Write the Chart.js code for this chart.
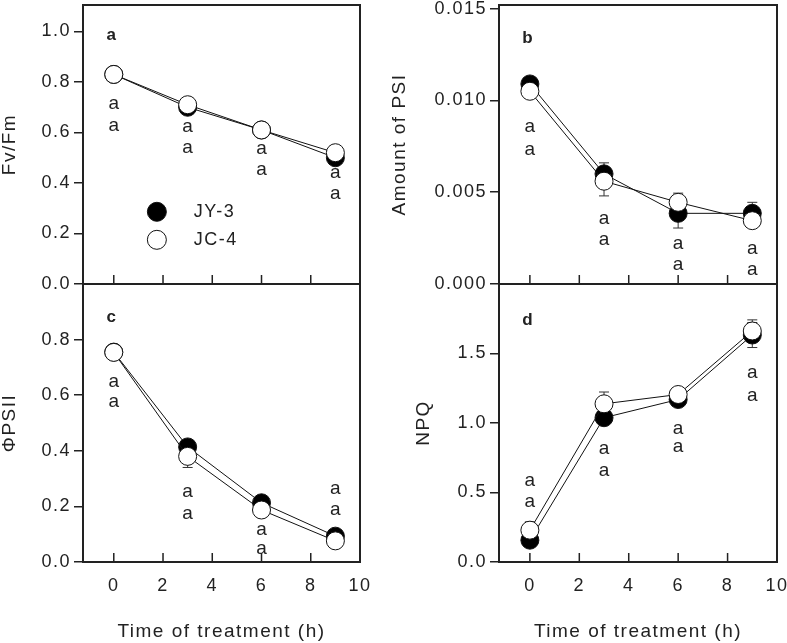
<!DOCTYPE html>
<html>
<head>
<meta charset="utf-8">
<script src="https://cdn.jsdelivr.net/npm/chart.js@4.4.0/dist/chart.umd.min.js"></script>
<style>
  html, body { margin: 0; padding: 0; background: #fff; }
  body { position: relative; width: 787px; height: 643px; overflow: hidden; }
  canvas { position: absolute; }
</style>
</head>
<body>
<canvas id="panel-a" width="400" height="330" style="left:0;top:-20px"></canvas>
<canvas id="panel-b" width="430" height="330" style="left:390px;top:-20px"></canvas>
<canvas id="panel-c" width="400" height="384" style="left:0;top:259px"></canvas>
<canvas id="panel-d" width="430" height="384" style="left:390px;top:259px"></canvas>
<script>
// time points (h) and axis ticks
const hours = [0, 3, 6, 9];
const xTicks = [0, 2, 4, 6, 8, 10];
const seriesNames = ['JY-3', 'JC-4'];
const sigLetter = 'a';

// a: Fv/Fm
const fvfmJY3 = [0.83, 0.70, 0.61, 0.50];
const fvfmJC4 = [0.83, 0.71, 0.61, 0.52];
const fvfmTicks = [0, 0.2, 0.4, 0.6, 0.8, 1.0];

// b: amount of PSI
const psiJY3 = [0.0109, 0.0060, 0.00385, 0.00385];
const psiJY3Err = [0.0002, 0.0006, 0.0008, 0.0006];
const psiJC4 = [0.0105, 0.0056, 0.00445, 0.00345];
const psiJC4Err = [0.0002, 0.0008, 0.0005, 0.0002];
const psiTicks = [0, 0.005, 0.010, 0.015];

// c: PhiPSII
const phiJY3 = [0.755, 0.414, 0.213, 0.093];
const phiJC4 = [0.754, 0.380, 0.187, 0.076];
const phiJC4Err = [0.01, 0.04, 0.01, 0.01];
const phiTicks = [0, 0.2, 0.4, 0.6, 0.8];

// d: NPQ
const npqJY3 = [0.157, 1.038, 1.169, 1.633];
const npqJY3Err = [0.03, 0.05, 0.03, 0.09];
const npqJC4 = [0.229, 1.138, 1.205, 1.662];
const npqJC4Err = [0.06, 0.085, 0.03, 0.08];
const npqTicks = [0, 0.5, 1.0, 1.5];

// significance letter anchors (x in h, y in axis units)
const lettersA = [[0, 0.714], [0, 0.627], [3, 0.624], [3, 0.540], [6, 0.536], [6, 0.452], [9, 0.442], [9, 0.357]];
const lettersB = [[0, 0.00854], [0, 0.00733], [3, 0.00355], [3, 0.00242], [6, 0.0022], [6, 0.00103], [9, 0.00193], [9, 0.00076]];
const lettersC = [[0, 0.647], [0, 0.575], [3, 0.252], [3, 0.175], [6, 0.115], [6, 0.049], [9, 0.264], [9, 0.187]];
const lettersD = [[0, 0.586], [0, 0.431], [3, 0.812], [3, 0.657], [6, 0.955], [6, 0.831], [9, 1.359], [9, 1.198]];

const FONT = '"Liberation Sans", Arial, sans-serif';
const INK = '#222';

const toPoints = vals => hours.map((h, i) => ({ x: h, y: vals[i] }));

function makeExtras(cfg) {
  return {
    id: 'panelExtras',
    beforeDraw(chart) {
      // the original lettering is widely tracked
      chart.ctx.letterSpacing = '1.5px';
    },
    beforeDatasetsDraw(chart) {
      const { ctx, scales: { x, y } } = chart;
      ctx.save();
      ctx.strokeStyle = '#333';
      ctx.lineWidth = 1;
      chart.data.datasets.forEach(ds => {
        if (!ds.errorBars) return;
        ds.data.forEach((p, i) => {
          const e = ds.errorBars[i];
          if (!e) return;
          const px = x.getPixelForValue(p.x);
          const top = y.getPixelForValue(p.y + e);
          const bot = y.getPixelForValue(p.y - e);
          ctx.beginPath();
          ctx.moveTo(px, top); ctx.lineTo(px, bot);
          ctx.moveTo(px - 5, top); ctx.lineTo(px + 5, top);
          ctx.moveTo(px - 5, bot); ctx.lineTo(px + 5, bot);
          ctx.stroke();
        });
      });
      ctx.restore();
    },
    afterDatasetsDraw(chart) {
      const { ctx, chartArea: area, scales: { x, y } } = chart;
      ctx.save();
      // frame
      ctx.strokeStyle = INK;
      ctx.lineWidth = 2;
      ctx.strokeRect(area.left, area.top, area.right - area.left, area.bottom - area.top);
      // inward x ticks
      ctx.lineWidth = 1.5;
      ctx.beginPath();
      xTicks.slice(0, -1).forEach(v => {
        const px = x.getPixelForValue(v);
        ctx.moveTo(px, area.bottom);
        ctx.lineTo(px, area.bottom - 9);
      });
      ctx.stroke();
      // significance letters
      ctx.fillStyle = INK;
      ctx.textAlign = 'center';
      ctx.textBaseline = 'middle';
      ctx.letterSpacing = '0px';
      ctx.font = '19px ' + FONT;
      cfg.letters.forEach(([lx, ly]) => {
        ctx.fillText(sigLetter, x.getPixelForValue(lx), y.getPixelForValue(ly));
      });
      // panel label
      ctx.font = 'bold 17px ' + FONT;
      ctx.fillText(cfg.label, x.getPixelForValue(-0.1), y.getPixelForValue(cfg.labelY));
      // legend
      if (cfg.legend) {
        const order = [1, 0];
        cfg.legend.forEach((ly, k) => {
          const ds = chart.data.datasets[order[k]];
          const cx = x.getPixelForValue(1.75);
          const cy = y.getPixelForValue(ly);
          ctx.beginPath();
          ctx.arc(cx, cy, 9.5, 0, Math.PI * 2);
          ctx.fillStyle = ds.pointBackgroundColor;
          ctx.fill();
          ctx.lineWidth = 1;
          ctx.strokeStyle = '#111';
          ctx.stroke();
          ctx.fillStyle = INK;
          ctx.textAlign = 'left';
          ctx.letterSpacing = '1.5px';
          ctx.font = '18px ' + FONT;
          ctx.fillText(ds.label, x.getPixelForValue(3.25), cy);
        });
      }
      ctx.restore();
    }
  };
}

function seriesSet(name, vals, errs, fill) {
  return {
    label: name,
    data: toPoints(vals),
    errorBars: errs,
    borderColor: '#111',
    borderWidth: 1,
    pointRadius: 9,
    pointBorderWidth: 1,
    pointBorderColor: '#111',
    pointBackgroundColor: fill,
    tension: 0,
    clip: false
  };
}

function makePanel(id, p) {
  const canvas = document.getElementById(id);
  return new Chart(canvas, {
    type: 'line',
    data: {
      datasets: [
        // JC-4 first so it is drawn on top
        seriesSet(seriesNames[1], p.jc4, p.jc4Err, '#fff'),
        seriesSet(seriesNames[0], p.jy3, p.jy3Err, '#000')
      ]
    },
    options: {
      responsive: false,
      animation: false,
      devicePixelRatio: 1,
      layout: { padding: { top: 25, left: 0, right: p.padRight, bottom: p.bottom ? 0 : 26 } },
      plugins: { legend: { display: false }, tooltip: { enabled: false } },
      scales: {
        x: {
          type: 'linear',
          min: -1.25,
          max: 10,
          afterBuildTicks: s => { s.ticks = xTicks.map(v => ({ value: v })); },
          afterFit: s => { s.height = p.bottom ? 81 : 0; },
          grid: { display: false, drawTicks: false },
          border: { display: false },
          ticks: { display: p.bottom, padding: 13, color: INK, font: { family: FONT, size: 18 } },
          title: {
            display: p.bottom,
            text: 'Time of treatment (h)',
            color: INK,
            padding: 0,
            font: { family: FONT, size: 19 }
          }
        },
        y: {
          type: 'linear',
          min: p.ymin,
          max: p.ymax,
          afterBuildTicks: s => { s.ticks = p.ticks.map(v => ({ value: v })); },
          afterFit: s => { s.width = p.yWidth; },
          grid: { display: true, drawOnChartArea: false, drawTicks: true, tickLength: 9, color: INK, lineWidth: 1.5 },
          border: { display: false },
          ticks: {
            padding: 3,
            color: INK,
            font: { family: FONT, size: 18 },
            callback: v => Number(v).toFixed(p.digits)
          },
          title: {
            display: true,
            text: p.title,
            color: INK,
            padding: { top: p.titlePad || 0, bottom: 0 },
            font: { family: FONT, size: 19, lineHeight: 1 }
          }
        }
      }
    },
    plugins: [makeExtras(p)]
  });
}

makePanel('panel-a', {
  jy3: fvfmJY3, jc4: fvfmJC4, jy3Err: null, jc4Err: null,
  ymin: 0, ymax: 1.105, ticks: fvfmTicks, digits: 1, title: 'Fv/Fm',
  yWidth: 83, padRight: 40, bottom: false,
  letters: lettersA, label: 'a', labelY: 0.984, legend: [0.286, 0.175]
});

makePanel('panel-b', {
  jy3: psiJY3, jc4: psiJC4, jy3Err: psiJY3Err, jc4Err: psiJC4Err,
  ymin: 0, ymax: 0.0152, ticks: psiTicks, digits: 3, title: 'Amount of PSI',
  yWidth: 109, padRight: 43, bottom: false,
  letters: lettersB, label: 'b', labelY: 0.0134
});

makePanel('panel-c', {
  jy3: phiJY3, jc4: phiJC4, jy3Err: null, jc4Err: phiJC4Err,
  ymin: 0, ymax: 1.0, ticks: phiTicks, digits: 1, title: 'ΦPSII',
  yWidth: 83, padRight: 40, bottom: true,
  letters: lettersC, label: 'c', labelY: 0.88
});

makePanel('panel-d', {
  jy3: npqJY3, jc4: npqJC4, jy3Err: npqJY3Err, jc4Err: npqJC4Err,
  ymin: 0, ymax: 2.0, ticks: npqTicks, digits: 1, title: 'NPQ', titlePad: 24,
  yWidth: 109, padRight: 43, bottom: true,
  letters: lettersD, label: 'd', labelY: 1.74
});
</script>
</body>
</html>
